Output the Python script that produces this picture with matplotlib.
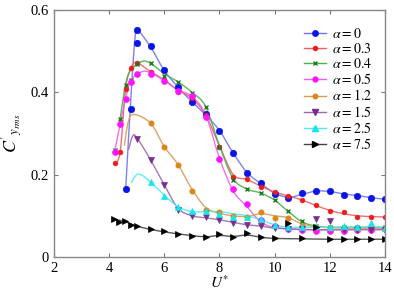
import numpy as np
import matplotlib
matplotlib.use("Agg")
import matplotlib.pyplot as plt
from matplotlib.path import Path
from matplotlib.patches import PathPatch

plt.rcParams['font.family'] = ['Liberation Serif', 'DejaVu Serif']
plt.rcParams['mathtext.fontset'] = 'stix'

# --- measured points (markers) ---
x_a0 = [4.6, 4.8, 5.0, 5.0, 5.5, 6.0, 6.5, 7.0, 7.5, 8.0, 8.5, 9.0, 9.5, 10.0, 10.5, 11.0, 11.5, 12.0, 12.5, 13.0, 13.5, 14.0]
y_a0 = [0.164, 0.36, 0.519, 0.551, 0.512, 0.453, 0.412, 0.377, 0.348, 0.307, 0.252, 0.203, 0.179, 0.153, 0.142, 0.156, 0.161, 0.159, 0.151, 0.149, 0.143, 0.140]

x_a03 = [4.2, 4.4, 4.6, 4.8, 5.0, 5.5, 6.0, 6.5, 7.0, 7.5, 8.0, 8.5, 9.0, 9.5, 10.0, 10.5, 11.0, 11.5, 12.0, 12.5, 13.0, 13.5, 14.0]
y_a03 = [0.228, 0.255, 0.407, 0.46, 0.47, 0.448, 0.43, 0.401, 0.385, 0.345, 0.268, 0.194, 0.189, 0.171, 0.158, 0.148, 0.138, 0.125, 0.112, 0.109, 0.096, 0.097, 0.097]

x_a04 = [4.2, 4.4, 4.6, 4.8, 5.0, 5.5, 6.0, 6.5, 7.0, 7.5, 8.0, 8.5, 9.0, 9.5, 10.0, 10.5, 11.0, 11.5, 12.0, 12.5, 13.0, 13.5, 14.0]
y_a04 = [0.26, 0.336, 0.418, 0.43, 0.469, 0.47, 0.44, 0.425, 0.398, 0.364, 0.268, 0.187, 0.164, 0.155, 0.138, 0.111, 0.088, 0.074, 0.072, 0.072, 0.073, 0.072, 0.072]

x_a05 = [4.2, 4.4, 4.6, 4.8, 5.0, 5.5, 6.0, 6.5, 7.0, 7.5, 8.0, 8.5, 9.0, 9.5, 10.0, 10.5, 11.0, 11.5, 12.0, 12.5, 13.0, 13.5, 14.0]
y_a05 = [0.256, 0.323, 0.383, 0.424, 0.445, 0.445, 0.427, 0.403, 0.391, 0.341, 0.237, 0.165, 0.128, 0.09, 0.075, 0.068, 0.065, 0.063, 0.063, 0.064, 0.065, 0.066, 0.067]

x_a12 = [5.5, 6.0, 6.5, 7.0, 7.5, 8.0, 8.5, 9.0, 9.5, 10.0, 10.5, 11.0, 11.5, 12.0, 12.5, 13.0, 13.5, 14.0]
y_a12 = [0.325, 0.266, 0.224, 0.161, 0.114, 0.108, 0.1, 0.098, 0.109, 0.095, 0.095, 0.075, 0.072, 0.07, 0.07, 0.068, 0.072, 0.067]

x_a15 = [5.0, 5.5, 6.0, 6.5, 7.0, 7.5, 8.0, 8.5, 9.0, 9.5, 10.0, 10.5, 11.0, 11.5, 12.0, 12.5, 13.0, 13.5, 14.0]
y_a15 = [0.287, 0.236, 0.174, 0.114, 0.1, 0.096, 0.09, 0.083, 0.077, 0.076, 0.07, 0.068, 0.068, 0.092, 0.087, 0.066, 0.065, 0.065, 0.066]

x_a25 = [5.5, 6.0, 6.5, 7.0, 7.5, 8.0, 8.5, 9.0, 9.5, 10.0, 10.5, 11.0, 11.5, 12.0, 12.5, 13.0, 13.5, 14.0]
y_a25 = [0.182, 0.148, 0.122, 0.112, 0.111, 0.105, 0.096, 0.098, 0.093, 0.077, 0.072, 0.072, 0.075, 0.072, 0.075, 0.072, 0.082, 0.07]

x_a75 = [4.17, 4.37, 4.58, 4.8, 5.0, 5.5, 6.0, 6.5, 7.0, 7.5, 8.0, 8.5, 9.0, 9.5, 10.0, 10.5, 11.0, 11.5, 12.0, 12.5, 13.0, 13.5, 14.0]
y_a75 = [0.092, 0.085, 0.088, 0.078, 0.074, 0.067, 0.062, 0.056, 0.051, 0.048, 0.056, 0.048, 0.058, 0.048, 0.045, 0.082, 0.045, 0.072, 0.043, 0.043, 0.043, 0.043, 0.043]

# --- fitted curves (knots) ---
cx_a0 = [4.6, 4.8, 4.95, 5.05, 5.5, 6.0, 6.5, 7.0, 7.5, 8.0, 8.5, 9.0, 9.5, 10.0, 10.5, 11.0, 11.5, 12.0, 12.5, 13.0, 13.5, 14.0]
cy_a0 = [0.164, 0.40, 0.54, 0.55, 0.51, 0.453, 0.412, 0.377, 0.345, 0.307, 0.252, 0.205, 0.178, 0.155, 0.145, 0.152, 0.16, 0.159, 0.153, 0.149, 0.144, 0.140]

cx_a03 = [4.2, 4.4, 4.6, 4.8, 5.0, 5.5, 6.0, 6.5, 7.0, 7.5, 8.0, 8.5, 9.0, 9.5, 10.0, 10.5, 11.0, 11.5, 12.0, 12.5, 13.0, 13.5, 14.0]
cy_a03 = [0.228, 0.255, 0.41, 0.46, 0.472, 0.45, 0.43, 0.405, 0.385, 0.345, 0.27, 0.2, 0.188, 0.172, 0.158, 0.148, 0.138, 0.125, 0.113, 0.105, 0.1, 0.098, 0.097]

cx_a04 = [4.4, 4.6, 4.8, 5.2, 5.5, 6.0, 6.5, 7.0, 7.5, 8.0, 8.5, 9.0, 9.5, 10.0, 10.5, 11.0, 11.5, 12.0, 13.0, 14.0]
cy_a04 = [0.336, 0.42, 0.455, 0.475, 0.47, 0.445, 0.425, 0.4, 0.365, 0.27, 0.19, 0.165, 0.155, 0.138, 0.11, 0.085, 0.075, 0.072, 0.072, 0.072]

cx_a05 = [4.2, 4.4, 4.6, 4.8, 5.2, 5.5, 6.0, 6.5, 7.0, 7.5, 8.0, 8.5, 9.0, 9.5, 10.0, 11.0, 12.0, 13.0, 14.0]
cy_a05 = [0.256, 0.323, 0.385, 0.43, 0.45, 0.447, 0.428, 0.405, 0.39, 0.345, 0.24, 0.16, 0.122, 0.085, 0.072, 0.066, 0.066, 0.067, 0.068]

cx_a12 = [4.55, 4.7, 4.9, 5.5, 6.0, 6.5, 7.0, 7.5, 8.0, 8.5, 9.0, 9.5, 10.0, 10.5, 11.0, 11.5, 12.0, 13.0, 14.0]
cy_a12 = [0.27, 0.33, 0.346, 0.325, 0.268, 0.224, 0.165, 0.12, 0.106, 0.1, 0.098, 0.105, 0.1, 0.095, 0.08, 0.073, 0.071, 0.07, 0.07]

cx_a15 = [4.7, 4.85, 5.0, 5.5, 6.0, 6.5, 7.0, 7.5, 8.0, 8.5, 9.0, 9.5, 10.0, 11.0, 12.0, 13.0, 14.0]
cy_a15 = [0.26, 0.293, 0.29, 0.236, 0.175, 0.118, 0.1, 0.095, 0.09, 0.084, 0.078, 0.075, 0.07, 0.067, 0.066, 0.066, 0.066]

cx_a25 = [4.8, 5.0, 5.2, 5.5, 6.0, 6.5, 7.0, 7.5, 8.0, 8.5, 9.0, 9.5, 10.0, 10.5, 11.0, 12.0, 13.0, 14.0]
cy_a25 = [0.18, 0.2, 0.198, 0.182, 0.15, 0.122, 0.11, 0.11, 0.11, 0.105, 0.1, 0.09, 0.078, 0.072, 0.072, 0.072, 0.073, 0.072]

cx_a75 = [4.17, 4.6, 5.0, 5.5, 6.0, 6.5, 7.0, 7.5, 8.0, 8.5, 9.0, 9.5, 10.0, 11.0, 12.0, 13.0, 14.0]
cy_a75 = [0.092, 0.085, 0.075, 0.067, 0.061, 0.056, 0.052, 0.049, 0.052, 0.05, 0.053, 0.048, 0.045, 0.044, 0.043, 0.043, 0.043]

labels = [r'$\alpha = 0$', r'$\alpha = 0.3$', r'$\alpha = 0.4$', r'$\alpha = 0.5$',
          r'$\alpha = 1.2$', r'$\alpha = 1.5$', r'$\alpha = 2.5$', r'$\alpha = 7.5$']


def smooth_path(xs, ys):
    # Catmull-Rom spline through the knots, drawn as cubic Bezier segments
    p = np.column_stack([xs, ys])
    p = np.vstack([p[0], p, p[-1]])
    verts = [p[1]]
    codes = [Path.MOVETO]
    for i in range(1, len(p) - 2):
        c1 = p[i] + (p[i + 1] - p[i - 1]) / 6.0
        c2 = p[i + 1] - (p[i + 2] - p[i]) / 6.0
        verts += [c1, c2, p[i + 1]]
        codes += [Path.CURVE4] * 3
    return Path(verts, codes)


series = [
    (x_a0, y_a0, cx_a0, cy_a0, '#0a14e6', '#6f74ee', 'o', 4.6),
    (x_a03, y_a03, cx_a03, cy_a03, '#ee1c1c', '#f06060', 'o', 3.4),
    (x_a04, y_a04, cx_a04, cy_a04, '#1e7a1e', '#4caf4c', 'x', 3.0),
    (x_a05, y_a05, cx_a05, cy_a05, '#ff14ff', '#f060f0', 'o', 4.2),
    (x_a12, y_a12, cx_a12, cy_a12, '#d9861a', '#d99a5a', 'o', 3.8),
    (x_a15, y_a15, cx_a15, cy_a15, '#7a2f8f', '#9a6aaa', 'v', 4.6),
    (x_a25, y_a25, cx_a25, cy_a25, '#10e8f0', '#50eaf0', '^', 4.4),
    (x_a75, y_a75, cx_a75, cy_a75, '#000000', '#444444', '>', 4.4),
]

fig = plt.figure(figsize=(3.94, 2.90), dpi=100)
ax = fig.add_axes([0.137, 0.114, 0.840, 0.852])

for (xm, ym, xc, yc, mcol, lcol, mk, ms), lab in zip(series, labels):
    ax.add_patch(PathPatch(smooth_path(xc, yc), facecolor='none', edgecolor=lcol,
                           lw=1.0, alpha=0.9))
    ax.plot(xm, ym, linestyle='none', marker=mk, color=mcol, ms=ms,
            mew=1.0 if mk == 'x' else 0.5)
    # legend handle
    ax.plot([], [], color=lcol, lw=1.0, marker=mk, mfc=mcol, mec=mcol, ms=ms * 0.85,
            label=lab)

ax.set_xlim(2, 14)
ax.set_ylim(0, 0.6)
ax.set_xticks([2, 4, 6, 8, 10, 12, 14])
ax.set_yticks([0, 0.2, 0.4, 0.6])
ax.set_yticklabels(['0', '0.2', '0.4', '0.6'])
ax.tick_params(direction='in', top=True, right=True, labelsize=10.5, length=3,
               color='#777777', width=0.8)
for s in ax.spines.values():
    s.set_color('#888888')
    s.set_linewidth(1.0)

ax.set_xlabel(r'$U^{*}$', fontsize=11, labelpad=0)
ax.set_ylabel(r"$C'_{y_{rms}}$", fontsize=13, labelpad=4)

ax.legend(loc='upper right', frameon=False, fontsize=10, handlelength=1.6,
          handletextpad=0.4, labelspacing=0.08, borderaxespad=0.3,
          bbox_to_anchor=(0.99, 0.97))

fig.savefig('out.png', dpi=100)
